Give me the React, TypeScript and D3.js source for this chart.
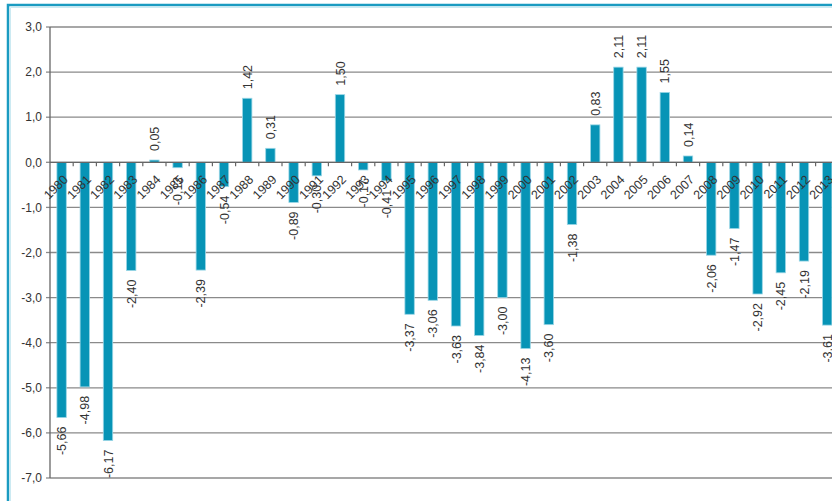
import * as d3 from "d3";

const years = [
  "1980", "1981", "1982", "1983", "1984", "1985", "1986", "1987", "1988", "1989",
  "1990", "1991", "1992", "1993", "1994", "1995", "1996", "1997", "1998", "1999",
  "2000", "2001", "2002", "2003", "2004", "2005", "2006", "2007", "2008", "2009",
  "2010", "2011", "2012", "2013",
];

const values = [
  -5.66, -4.98, -6.17, -2.4, 0.05, -0.12, -2.39, -0.54, 1.42, 0.31,
  -0.89, -0.3, 1.5, -0.17, -0.41, -3.37, -3.06, -3.63, -3.84, -3.0,
  -4.13, -3.6, -1.38, 0.83, 2.11, 2.11, 1.55, 0.14, -2.06, -1.47,
  -2.92, -2.45, -2.19, -3.61,
];

const yTicks = [3, 2, 1, 0, -1, -2, -3, -4, -5, -6, -7];

const W = 832;
const H = 501;
const FONT = "'Liberation Sans', Arial, sans-serif";
const TEXT = "#333333";
const GRID = "#8a8a8a";
const BAR = "#0794b6";

const fmt = (v: number) => d3.format(".2f")(v).replace(".", ",").replace("−", "-");
const fmtTick = (v: number) => d3.format(".1f")(v).replace(".", ",").replace("−", "-");

export default function App() {
  // plot continues past the right edge of the picture
  const step = 23.2;
  const x = d3
    .scaleBand<string>()
    .domain(years)
    .range([50, 50 + step * years.length])
    .paddingInner(0.595)
    .paddingOuter(0.2975);

  const y = d3.scaleLinear().domain([-7, 3]).range([478, 27]);
  const y0 = y(0);
  const xLeft = 50;

  const data = years.map((yr, i) => ({ year: yr, value: values[i] }));

  return (
    <svg
      width={W}
      height={H}
      style={{ position: "absolute", left: 0, top: 0, background: "#fff" }}
      fontFamily={FONT}
    >
      {/* frame */}
      <path d={`M8,${H} L8,5 L${W},5`} fill="none" stroke="#1a9bc1" strokeWidth={2.5} />
      <path d={`M10.5,${H} L10.5,7.5 L${W},7.5`} fill="none" stroke="#bfe4ef" strokeWidth={0.8} />

      {/* grid lines + y ticks */}
      {yTicks.map((t) => (
        <g key={t}>
          <line x1={xLeft} x2={W} y1={y(t)} y2={y(t)} stroke={GRID} strokeWidth={1.3} />
          <line x1={xLeft - 4} x2={xLeft} y1={y(t)} y2={y(t)} stroke={GRID} strokeWidth={1.3} />
          <text
            x={xLeft - 8}
            y={y(t)}
            dy="0.35em"
            textAnchor="end"
            fontSize={12}
            fill={TEXT}
          >
            {fmtTick(t)}
          </text>
        </g>
      ))}

      {/* y axis */}
      <line x1={xLeft} x2={xLeft} y1={y(3)} y2={y(-7)} stroke="#666" strokeWidth={1.3} />

      {/* bars */}
      {data.map((d) => (
        <rect
          key={d.year}
          x={x(d.year)!}
          width={x.bandwidth()}
          y={Math.min(y(d.value), y0)}
          height={Math.abs(y(d.value) - y0)}
          fill={BAR}
          stroke="#9ad6e6"
          strokeWidth={0.8}
        />
      ))}

      {/* zero line with category ticks */}
      <line x1={xLeft} x2={W} y1={y0} y2={y0} stroke="#666" strokeWidth={1.3} />
      {years.map((yr) => {
        const bx = x(yr)! - (x.step() * x.paddingInner()) / 2 + x.step();
        return (
          <line key={yr} x1={bx} x2={bx} y1={y0} y2={y0 + 4} stroke="#666" strokeWidth={1.2} />
        );
      })}

      {/* category labels */}
      {years.map((yr) => {
        const cx = x(yr)! + x.bandwidth() / 2;
        return (
          <text
            key={yr}
            transform={`translate(${cx + 7},${y0 + 18}) rotate(-45)`}
            textAnchor="end"
            fontSize={12.5}
            fill={TEXT}
          >
            {yr}
          </text>
        );
      })}

      {/* value labels */}
      {data.map((d) => {
        const cx = x(d.year)! + x.bandwidth() / 2;
        const pos = d.value >= 0;
        const ly = pos ? y(d.value) - 9 : y(d.value) + 9;
        return (
          <text
            key={d.year}
            transform={`translate(${cx + 4.5},${ly}) rotate(-90)`}
            textAnchor={pos ? "start" : "end"}
            fontSize={12.5}
            fill={TEXT}
          >
            {fmt(d.value)}
          </text>
        );
      })}
    </svg>
  );
}
